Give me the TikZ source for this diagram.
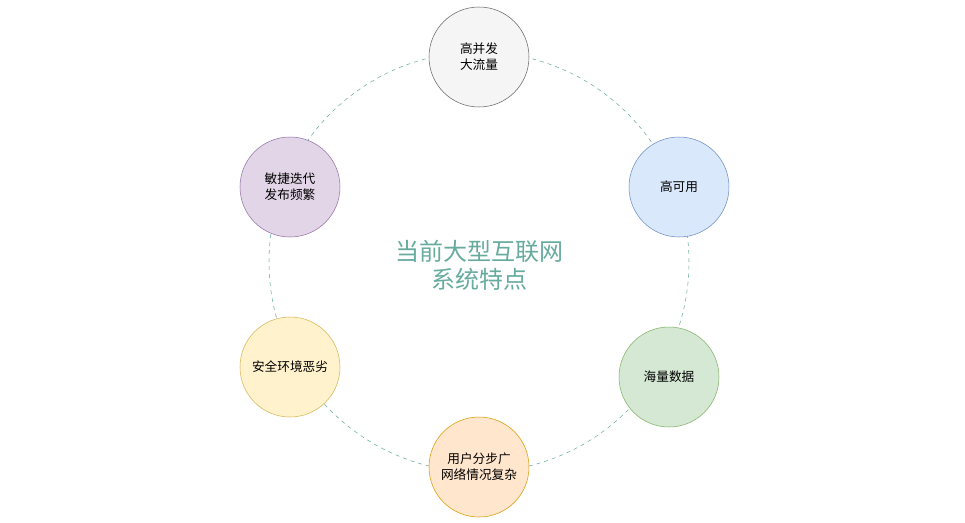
\documentclass[tikz,border=0pt]{standalone}
\usepackage{fontspec}
\setmainfont{Noto Sans CJK SC}
\definecolor{ring}{HTML}{67AB9F}
\tikzset{
  topic/.style={circle, draw, minimum size=100*0.75pt, inner sep=0pt, align=center, font=\fontsize{9.5}{12}\selectfont},
}
\begin{document}
\begin{tikzpicture}[x=0.75pt, y=-0.75pt]
\useasboundingbox (0,0) rectangle (965,522);
% ring
\draw[ring, dashed, thin] (479,262) circle[radius=210*0.75pt];
% nodes
\node[topic, fill={rgb,255:red,245;green,245;blue,245}, draw={rgb,255:red,102;green,102;blue,102}] (flow) at (479,57) {高并发\\大流量};
\node[topic, fill={rgb,255:red,218;green,232;blue,252}, draw={rgb,255:red,108;green,142;blue,191}] (avail) at (679,187) {高可用};
\node[topic, fill={rgb,255:red,213;green,232;blue,212}, draw={rgb,255:red,130;green,179;blue,102}] (data) at (669,377) {海量数据};
\node[topic, fill={rgb,255:red,255;green,230;blue,204}, draw={rgb,255:red,215;green,155;blue,0}] (users) at (479,467) {用户分步广\\网络情况复杂};
\node[topic, fill={rgb,255:red,255;green,242;blue,204}, draw={rgb,255:red,214;green,182;blue,86}] (safe) at (290,367) {安全环境恶劣};
\node[topic, fill={rgb,255:red,225;green,213;blue,231}, draw={rgb,255:red,150;green,115;blue,166}] (agile) at (290,187) {敏捷迭代\\发布频繁};
% title
\node[text=ring, align=center, font=\fontsize{18}{21}\selectfont] (title) at (479,265) {当前大型互联网\\系统特点};
\end{tikzpicture}
\end{document}
